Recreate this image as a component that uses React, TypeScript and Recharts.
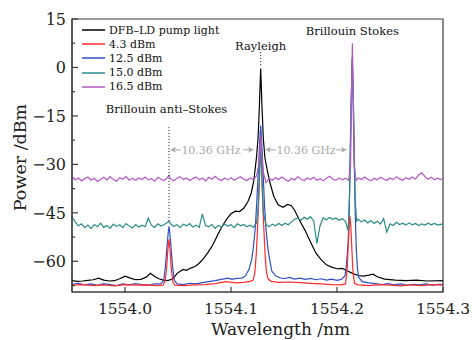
import React from 'react';
import { LineChart, Line, XAxis, YAxis, Legend, ReferenceLine, ReferenceDot, ReferenceArea } from 'recharts';

// wavelength (nm), power (dBm)
const pumpLight: [number, number][] = [
  [1553.95, -66.0], [1553.955, -66.2], [1553.96, -66.1], [1553.965, -65.9], [1553.97, -65.7], [1553.975, -65.2],
  [1553.98, -65.8], [1553.985, -66.1], [1553.99, -66.0], [1553.995, -65.4], [1554.0, -64.6], [1554.005, -65.2],
  [1554.01, -65.7], [1554.015, -65.6], [1554.02, -64.9], [1554.024, -63.7], [1554.028, -64.7], [1554.032, -65.4],
  [1554.036, -65.8], [1554.04, -66.0], [1554.045, -65.5], [1554.049, -63.8], [1554.052, -63.1], [1554.055, -62.5],
  [1554.058, -62.8], [1554.062, -62.1], [1554.066, -61.6], [1554.07, -60.6], [1554.074, -59.2], [1554.078, -57.4],
  [1554.082, -55.4], [1554.085, -53.5], [1554.088, -51.4], [1554.092, -49.0], [1554.096, -46.9], [1554.1, -45.3],
  [1554.104, -44.5], [1554.108, -44.6], [1554.112, -43.6], [1554.116, -41.5], [1554.119, -39.0], [1554.1215, -35.0],
  [1554.124, -28.0], [1554.1255, -22.0], [1554.1268, -12.0], [1554.1276, -4.0], [1554.128, -0.3], [1554.1284, -4.0],
  [1554.1292, -12.0], [1554.1305, -22.0], [1554.132, -28.0], [1554.134, -31.5], [1554.137, -36.0], [1554.1405, -40.0],
  [1554.1445, -42.5], [1554.149, -43.3], [1554.1535, -42.4], [1554.157, -42.8], [1554.16, -44.2], [1554.165, -47.5],
  [1554.17, -50.5], [1554.175, -54.0], [1554.18, -57.4], [1554.185, -59.5], [1554.19, -61.1], [1554.195, -61.8],
  [1554.2, -62.3], [1554.205, -62.2], [1554.21, -63.0], [1554.215, -63.8], [1554.22, -64.4], [1554.225, -64.6],
  [1554.23, -64.3], [1554.234, -64.0], [1554.238, -64.8], [1554.245, -65.5], [1554.255, -65.8], [1554.265, -66.0],
  [1554.275, -65.8], [1554.285, -66.1], [1554.3, -66.0],
];

const power43: [number, number][] = [
  [1553.95, -67.4], [1553.96, -67.2], [1553.97, -67.5], [1553.98, -67.3], [1553.99, -67.6], [1554.0, -67.2],
  [1554.01, -67.4], [1554.02, -67.3], [1554.03, -67.5], [1554.036, -67.4], [1554.038, -66.0], [1554.0395, -61.0],
  [1554.0405, -56.0], [1554.0415, -53.2], [1554.0425, -56.5], [1554.0435, -61.5], [1554.045, -66.2], [1554.047, -67.4],
  [1554.055, -67.5], [1554.065, -67.3], [1554.075, -67.2], [1554.085, -66.9], [1554.095, -66.3], [1554.105, -66.7],
  [1554.112, -66.5], [1554.118, -66.2], [1554.121, -65.8], [1554.1225, -63.5], [1554.1238, -58.0], [1554.125, -50.0],
  [1554.1265, -38.0], [1554.128, -22.0], [1554.1295, -38.0], [1554.131, -50.0], [1554.1322, -58.0], [1554.1335, -63.5],
  [1554.135, -65.5], [1554.138, -66.2], [1554.145, -66.5], [1554.155, -66.4], [1554.165, -66.6], [1554.175, -66.8],
  [1554.185, -67.0], [1554.195, -67.2], [1554.203, -67.3], [1554.208, -67.0], [1554.2095, -63.0], [1554.2105, -56.0],
  [1554.2115, -49.0], [1554.2122, -46.0], [1554.213, -49.0], [1554.214, -56.0], [1554.215, -63.0], [1554.2165, -66.8],
  [1554.22, -67.3], [1554.23, -67.5], [1554.24, -67.2], [1554.25, -67.4], [1554.26, -67.6], [1554.27, -67.3],
  [1554.28, -67.5], [1554.29, -67.2], [1554.3, -67.4],
];

const power125: [number, number][] = [
  [1553.95, -67.1], [1553.956, -66.8], [1553.962, -67.3], [1553.968, -67.0], [1553.974, -67.4], [1553.98, -66.9],
  [1553.986, -67.2], [1553.992, -67.5], [1553.998, -67.0], [1554.004, -67.3], [1554.01, -66.9], [1554.016, -67.2],
  [1554.022, -67.4], [1554.028, -67.0], [1554.034, -67.0], [1554.0365, -66.0], [1554.038, -62.0], [1554.0395, -56.0],
  [1554.0408, -51.0], [1554.0415, -49.2], [1554.0422, -51.0], [1554.0435, -56.0], [1554.045, -62.0], [1554.0465, -65.8],
  [1554.049, -67.0], [1554.055, -67.2], [1554.061, -66.8], [1554.067, -67.0], [1554.073, -66.6], [1554.079, -66.3],
  [1554.085, -66.0], [1554.091, -65.6], [1554.097, -65.2], [1554.101, -65.6], [1554.105, -65.3], [1554.11, -65.2],
  [1554.1135, -64.6], [1554.117, -62.5], [1554.1195, -59.5], [1554.121, -56.0], [1554.1228, -50.0], [1554.1242, -42.5],
  [1554.1258, -32.0], [1554.1272, -22.0], [1554.128, -18.0], [1554.1288, -22.0], [1554.1302, -32.0], [1554.1316, -42.5],
  [1554.133, -50.0], [1554.1348, -56.0], [1554.1365, -59.5], [1554.1385, -63.0], [1554.142, -64.5], [1554.146, -65.1],
  [1554.15, -65.4], [1554.155, -65.0], [1554.16, -65.5], [1554.165, -65.2], [1554.17, -65.6], [1554.175, -65.3],
  [1554.18, -65.7], [1554.185, -65.4], [1554.19, -65.8], [1554.195, -65.5], [1554.2, -65.9], [1554.204, -65.6],
  [1554.2075, -64.5], [1554.209, -61.0], [1554.2105, -54.0], [1554.2115, -45.0], [1554.2125, -28.0], [1554.2135, -10.0],
  [1554.2143, 3.0], [1554.2152, -10.0], [1554.2162, -28.0], [1554.2172, -45.0], [1554.2182, -56.0], [1554.2192, -62.0],
  [1554.2205, -65.0], [1554.224, -66.3], [1554.23, -66.7], [1554.236, -66.9], [1554.242, -67.2], [1554.248, -66.9],
  [1554.254, -67.3], [1554.26, -67.0], [1554.266, -67.4], [1554.272, -67.1], [1554.278, -67.3], [1554.284, -67.0],
  [1554.29, -67.4], [1554.296, -67.1], [1554.3, -67.2],
];

const power150: [number, number][] = [
  [1553.95, -46.2], [1553.953, -47.8], [1553.956, -49.0], [1553.959, -48.4], [1553.962, -49.6], [1553.965, -48.8],
  [1553.968, -49.9], [1553.971, -48.6], [1553.974, -49.3], [1553.977, -48.2], [1553.98, -49.5], [1553.983, -48.9],
  [1553.986, -49.8], [1553.989, -48.5], [1553.992, -49.2], [1553.995, -48.7], [1553.998, -49.6], [1554.001, -48.3],
  [1554.004, -49.1], [1554.007, -49.7], [1554.01, -48.6], [1554.013, -49.4], [1554.016, -48.8], [1554.019, -49.3],
  [1554.022, -46.6], [1554.025, -48.9], [1554.028, -49.5], [1554.031, -48.4], [1554.034, -49.1], [1554.037, -48.6],
  [1554.04, -48.0], [1554.0415, -47.6], [1554.043, -48.4], [1554.046, -49.2], [1554.049, -48.7], [1554.052, -49.6],
  [1554.055, -48.5], [1554.058, -49.0], [1554.061, -48.3], [1554.064, -49.4], [1554.067, -48.8], [1554.07, -49.5],
  [1554.073, -45.3], [1554.076, -48.9], [1554.079, -49.3], [1554.082, -48.6], [1554.085, -49.8], [1554.088, -48.9],
  [1554.091, -49.4], [1554.094, -48.5], [1554.097, -49.1], [1554.1, -48.7], [1554.103, -49.6], [1554.106, -48.4],
  [1554.109, -49.0], [1554.112, -48.6], [1554.115, -49.3], [1554.118, -48.8], [1554.121, -49.5], [1554.124, -48.2],
  [1554.1255, -44.0], [1554.127, -32.0], [1554.128, -22.0], [1554.129, -33.0], [1554.1305, -45.0], [1554.133, -48.6],
  [1554.136, -49.3], [1554.139, -48.5], [1554.142, -49.0], [1554.145, -48.3], [1554.148, -48.9], [1554.151, -48.2],
  [1554.154, -48.7], [1554.157, -47.8], [1554.16, -47.0], [1554.163, -46.6], [1554.166, -47.3], [1554.169, -46.4],
  [1554.172, -47.0], [1554.175, -46.2], [1554.178, -47.5], [1554.181, -54.5], [1554.184, -49.0], [1554.187, -46.5],
  [1554.19, -47.2], [1554.193, -46.4], [1554.196, -47.0], [1554.199, -46.6], [1554.202, -47.3], [1554.205, -46.8],
  [1554.208, -47.6], [1554.2105, -50.5], [1554.2118, -40.0], [1554.213, -15.0], [1554.2145, 2.0], [1554.2158, -15.0],
  [1554.217, -40.0], [1554.2185, -47.5], [1554.22, -47.0], [1554.223, -47.8], [1554.226, -47.2], [1554.229, -48.1],
  [1554.232, -47.4], [1554.235, -48.3], [1554.238, -47.6], [1554.241, -48.5], [1554.244, -46.8], [1554.247, -51.0],
  [1554.25, -48.4], [1554.253, -48.9], [1554.256, -47.9], [1554.259, -48.6], [1554.262, -48.2], [1554.265, -48.8],
  [1554.268, -48.1], [1554.271, -48.7], [1554.274, -48.3], [1554.277, -48.9], [1554.28, -48.4], [1554.283, -48.8],
  [1554.286, -48.2], [1554.289, -48.7], [1554.292, -48.3], [1554.295, -48.8], [1554.298, -48.5], [1554.3, -48.6],
];

const power165: [number, number][] = [
  [1553.95, -33.6], [1553.953, -34.8], [1553.956, -34.2], [1553.959, -35.1], [1553.962, -34.4], [1553.965, -33.9],
  [1553.968, -34.9], [1553.971, -34.3], [1553.974, -35.3], [1553.977, -34.6], [1553.98, -34.0], [1553.983, -34.8],
  [1553.986, -33.8], [1553.989, -34.7], [1553.992, -35.2], [1553.995, -34.1], [1553.998, -34.6], [1554.001, -33.7],
  [1554.004, -34.9], [1554.007, -34.3], [1554.01, -35.0], [1554.013, -34.2], [1554.016, -34.7], [1554.019, -33.9],
  [1554.022, -34.8], [1554.025, -34.4], [1554.028, -35.2], [1554.031, -34.0], [1554.034, -34.6], [1554.037, -35.0],
  [1554.04, -34.1], [1554.0415, -33.4], [1554.043, -34.5], [1554.046, -35.1], [1554.049, -34.3], [1554.052, -33.8],
  [1554.055, -34.7], [1554.058, -34.2], [1554.061, -35.0], [1554.064, -34.4], [1554.067, -33.9], [1554.07, -34.8],
  [1554.073, -34.3], [1554.076, -35.1], [1554.079, -34.0], [1554.082, -34.6], [1554.085, -33.7], [1554.088, -34.5],
  [1554.091, -35.0], [1554.094, -34.2], [1554.097, -34.8], [1554.1, -34.1], [1554.103, -34.9], [1554.106, -34.3],
  [1554.109, -33.8], [1554.112, -34.6], [1554.115, -35.0], [1554.118, -34.2], [1554.121, -34.7], [1554.124, -33.6],
  [1554.1255, -31.5], [1554.127, -27.0], [1554.128, -21.0], [1554.129, -27.5], [1554.1305, -32.5], [1554.133, -35.6],
  [1554.136, -34.4], [1554.139, -34.9], [1554.142, -34.1], [1554.145, -34.7], [1554.148, -33.9], [1554.151, -34.6],
  [1554.154, -35.2], [1554.157, -34.3], [1554.16, -34.8], [1554.163, -33.8], [1554.166, -34.5], [1554.169, -35.0],
  [1554.172, -34.2], [1554.175, -34.7], [1554.178, -34.0], [1554.181, -34.9], [1554.184, -34.4], [1554.187, -35.1],
  [1554.19, -34.3], [1554.193, -33.7], [1554.196, -34.6], [1554.199, -34.9], [1554.202, -34.2], [1554.205, -34.8],
  [1554.208, -34.3], [1554.211, -34.9], [1554.2128, -30.0], [1554.2138, -5.0], [1554.2145, 7.5], [1554.2152, -5.0],
  [1554.2162, -30.0], [1554.218, -35.0], [1554.22, -34.2], [1554.223, -34.7], [1554.226, -33.9], [1554.229, -34.6],
  [1554.232, -35.1], [1554.235, -34.3], [1554.238, -34.8], [1554.241, -34.0], [1554.244, -34.5], [1554.247, -35.0],
  [1554.25, -34.2], [1554.253, -34.7], [1554.256, -33.8], [1554.259, -34.5], [1554.262, -34.9], [1554.265, -34.1],
  [1554.268, -34.6], [1554.271, -33.9], [1554.274, -34.5], [1554.277, -33.3], [1554.28, -32.6], [1554.283, -33.8],
  [1554.286, -34.6], [1554.289, -34.0], [1554.292, -34.8], [1554.295, -34.3], [1554.298, -34.7], [1554.3, -34.4],
];

const xTicks = [1554.0, 1554.05, 1554.1, 1554.15, 1554.2, 1554.25, 1554.3];
const yTicks = [15, 7.5, 0, -7.5, -15, -22.5, -30, -37.5, -45, -52.5, -60, -67.5];

// annotation anchors (data units)
const rayleighWl = 1554.128;
const antiStokesWl = 1554.0415;
const stokesWl = 1554.2145;
const arrowLevel = -25.5;
const gapArrows: [number, number][] = [
  [1554.0528, 1554.0425], [1554.1113, 1554.1217], [1554.1425, 1554.1321], [1554.1991, 1554.2094],
];
const gapLabels = [1554.0811, 1554.1708];

const FONT = '"DejaVu Serif", serif';
const AXIS = '#3a3a3a';

const toPoints = (arr: [number, number][]) => arr.map(([x, y]) => ({ x, y }));

const series = [
  { name: 'DFB–LD pump light', color: '#000000', data: toPoints(pumpLight) },
  { name: '12.5 dBm', color: '#2f4fc4', data: toPoints(power125) },
  { name: '4.3 dBm', color: '#ff2b2b', data: toPoints(power43) },
  { name: '15.0 dBm', color: '#2b8a8a', data: toPoints(power150) },
  { name: '16.5 dBm', color: '#b257c2', data: toPoints(power165) },
];
const legendOrder = ['DFB–LD pump light', '4.3 dBm', '12.5 dBm', '15.0 dBm', '16.5 dBm'];

const isMajor = (v: number, step: number) => Math.abs(v / step - Math.round(v / step)) < 1e-6;

const XTick = (props: any) => {
  const { x, y, payload } = props;
  const major = isMajor(payload.value, 0.1);
  return (
    <g>
      <line x1={x} y1={y} x2={x} y2={y - (major ? 5 : 3)} stroke={AXIS} strokeWidth={1.2} />
      {major && (
        <text x={x} y={y + 22} textAnchor="middle" fontFamily={FONT} fontSize={15.5} fill="#222">
          {payload.value.toFixed(1)}
        </text>
      )}
    </g>
  );
};

const YTick = (props: any) => {
  const { x, y, payload } = props;
  const major = isMajor(payload.value, 15);
  return (
    <g>
      <line x1={x} y1={y} x2={x + (major ? 6 : 3)} y2={y} stroke={AXIS} strokeWidth={1.2} />
      {major && (
        <text x={x - 6} y={y + 6} textAnchor="end" fontFamily={FONT} fontSize={16} fill="#222">
          {payload.value < 0 ? `−${Math.abs(payload.value)}` : payload.value}
        </text>
      )}
    </g>
  );
};

const Arrow = (props: any) => {
  const { x1, y1, x2, y2 } = props;
  const d = Math.sign(x2 - x1);
  return (
    <g>
      <line x1={x1} y1={y1} x2={x2 - d * 4} y2={y2} stroke="#aaaaaa" strokeWidth={1} />
      <polygon
        points={`${x2},${y2} ${x2 - d * 6},${y2 - 3} ${x2 - d * 4.5},${y2} ${x2 - d * 6},${y2 + 3}`}
        fill="#aaaaaa"
      />
    </g>
  );
};

const textAt = (label: string, size: number, color: string) => (p: any) => (
  <text x={p.cx} y={p.cy} textAnchor="middle" fontFamily={FONT} fontSize={size} fill={color}>
    {label}
  </text>
);

const gapText = (p: any) => (
  <text x={p.cx} y={p.cy} dy={4} textAnchor="middle" fontFamily={FONT} fontSize={11} fill="#aaaaaa">
    10.36 GHz
  </text>
);

const renderLegend = () => (
  <div style={{ fontFamily: FONT, fontSize: 11, color: '#111' }}>
    {legendOrder.map((name) => {
      const s = series.find((d) => d.name === name)!;
      return (
        <div key={name} style={{ height: 14.2, display: 'flex', alignItems: 'center' }}>
          <svg width={23} height={4} style={{ marginRight: 4 }}>
            <line x1={0} y1={2} x2={23} y2={2} stroke={s.color} strokeWidth={1.5} />
          </svg>
          <span style={{ whiteSpace: 'nowrap' }}>{name}</span>
        </div>
      );
    })}
  </div>
);

export default function App() {
  return (
    <div style={{ position: 'absolute', left: 0, top: 0, background: '#fff' }}>
      <LineChart width={472} height={340} margin={{ top: 19, right: 29, bottom: 0, left: 0 }}>
        <XAxis
          type="number"
          dataKey="x"
          domain={[1553.95, 1554.3]}
          ticks={xTicks}
          height={48}
          tickSize={0}
          tickMargin={0}
          tick={<XTick />}
          axisLine={{ stroke: AXIS, strokeWidth: 1.2 }}
          label={(p: any) => (
            <text
              x={p.viewBox.x + p.viewBox.width / 2 + 23}
              y={p.viewBox.y + 43}
              textAnchor="middle"
              fontFamily={FONT}
              fontSize={17}
              fill="#222"
            >
              Wavelength /nm
            </text>
          )}
        />
        <YAxis
          type="number"
          domain={[-69.5, 15]}
          ticks={yTicks}
          width={72}
          tickSize={0}
          tickMargin={0}
          tick={<YTick />}
          allowDataOverflow
          axisLine={{ stroke: AXIS, strokeWidth: 1.2 }}
          label={(p: any) => {
            const cx = p.viewBox.x + 20;
            const cy = p.viewBox.y + p.viewBox.height / 2 + 2;
            return (
              <text
                x={cx}
                y={cy}
                transform={`rotate(-90, ${cx}, ${cy})`}
                textAnchor="middle"
                dominantBaseline="central"
                fontFamily={FONT}
                fontSize={17.5}
                fill="#222"
              >
                Power /dBm
              </text>
            );
          }}
        />
        <ReferenceArea x1={1553.95} x2={1554.3} y1={-69.5} y2={15} fill="none" fillOpacity={0} stroke={AXIS} strokeWidth={1.2} />
        <Legend layout="vertical" align="center" verticalAlign="middle" content={renderLegend}
          wrapperStyle={{ position: 'absolute', left: 82, top: 23, width: 170, height: 72 }} />
        {series.map((s) => (
          <Line
            key={s.name}
            data={s.data}
            dataKey="y"
            name={s.name}
            stroke={s.color}
            strokeWidth={1.2}
            dot={false}
            activeDot={false}
            isAnimationActive={false}
          />
        ))}
        <ReferenceLine segment={[{ x: rayleighWl, y: 4.8 }, { x: rayleighWl, y: 0.5 }]} stroke="#333" strokeDasharray="1.2 1.8" />
        <ReferenceLine segment={[{ x: antiStokesWl, y: -18.4 }, { x: antiStokesWl, y: -48 }]} stroke="#333" strokeDasharray="1.2 1.8" />
        {gapArrows.map(([from, to], i) => (
          <ReferenceLine key={i} segment={[{ x: from, y: arrowLevel }, { x: to, y: arrowLevel }]} shape={Arrow} />
        ))}
        {gapLabels.map((x, i) => (
          <ReferenceDot key={i} x={x} y={arrowLevel} r={0} shape={gapText} />
        ))}
        <ReferenceDot x={rayleighWl} y={5.4} r={0} shape={textAt('Rayleigh', 11.5, '#111')} />
        <ReferenceDot x={antiStokesWl - 0.0023} y={-14} r={0} shape={textAt('Brillouin anti–Stokes', 11.5, '#111')} />
        <ReferenceDot x={stokesWl} y={10} r={0} shape={textAt('Brillouin Stokes', 11.5, '#111')} />
      </LineChart>
    </div>
  );
}
